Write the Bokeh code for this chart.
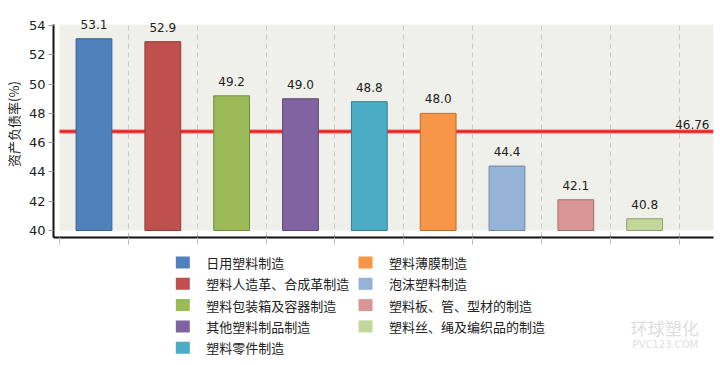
from bokeh.plotting import figure
from bokeh.models import FixedTicker, BoxAnnotation, Range1d
from bokeh.layouts import column
from bokeh.embed import file_html
from bokeh.resources import INLINE
from bokeh.core.properties import value

# ---- data ----
categories = ["日用塑料制造", "塑料人造革、合成革制造", "塑料包装箱及容器制造",
              "其他塑料制品制造", "塑料零件制造", "塑料薄膜制造", "泡沫塑料制造",
              "塑料板、管、型材的制造", "塑料丝、绳及编织品的制造"]
values = [53.1, 52.9, 49.2, 49.0, 48.8, 48.0, 44.4, 42.1, 40.8]
average = 46.76
y_ticks = [40, 42, 44, 46, 48, 50, 52, 54]
y_label = "资产负债率(%)"

# ---- styles ----
colors = ["#4f81bd", "#c0504d", "#9bbb59", "#8064a2", "#4bacc6",
          "#f79646", "#95b3d7", "#d99694", "#c3d69b"]
borders = ["#3a6190", "#8f3b39", "#71893f", "#5c4876", "#357f93",
           "#b86e32", "#6d86a6", "#a16e6c", "#8fa071"]
NUM_FONT = value("DejaVu Sans")
CJK_FONT = value("Noto Sans CJK SC")

xs = list(range(len(values)))
base = y_ticks[0]

W = 720
H_MAIN = 245
H_LEG = 119

Y_LO, Y_TOP_AREA, Y_HI = 39.52, 54.07, 55.03

p = figure(width=W, height=H_MAIN,
           x_range=Range1d(-0.588, 9.0), y_range=Range1d(Y_LO, Y_HI),
           output_backend="svg", toolbar_location=None,
           min_border_left=52, min_border_right=7, min_border_top=10, min_border_bottom=8,
           background_fill_color="white", border_fill_color="white",
           outline_line_color=None)

bg = BoxAnnotation(left=-0.5, right=9.0, bottom=base, top=Y_TOP_AREA,
                   fill_color="#f0f0ea", fill_alpha=1.0, line_color=None, level="image")
p.add_layout(bg)

# y axis
p.yaxis.ticker = FixedTicker(ticks=y_ticks)
p.yaxis.bounds = (Y_LO, Y_TOP_AREA)
p.yaxis.major_label_text_font = "DejaVu Sans"
p.yaxis.major_label_text_font_size = "13px"
p.yaxis.major_label_text_color = "#222222"
p.yaxis.major_label_standoff = 3
p.yaxis.major_tick_out = 5
p.yaxis.major_tick_in = 0
p.yaxis.major_tick_line_color = "#999999"
p.yaxis.minor_tick_line_color = None
p.yaxis.axis_line_color = "#111111"
p.yaxis.axis_line_width = 2
p.yaxis.axis_label = y_label
p.yaxis.axis_label_text_font = "Noto Sans CJK SC"
p.yaxis.axis_label_text_font_size = "13px"
p.yaxis.axis_label_text_font_style = "normal"
p.yaxis.axis_label_text_color = "#222222"
p.yaxis.axis_label_standoff = 3

# x axis: unlabeled category-boundary ticks (as minor ticks, so no empty labels)
edges = [i - 0.5 for i in range(len(values) + 1)]
p.xaxis.ticker = FixedTicker(ticks=[], minor_ticks=edges)
p.xaxis.major_label_standoff = 0
p.xaxis.major_tick_out = 0
p.xaxis.major_tick_in = 0
p.xaxis.minor_tick_out = 7
p.xaxis.minor_tick_in = 0
p.xaxis.minor_tick_line_color = "#bbbbbb"
p.xaxis.axis_line_color = "#111111"
p.xaxis.axis_line_width = 2

p.ygrid.visible = False
boundaries = [i + 0.5 for i in range(len(values))]
if "cross_bounds" in p.xgrid[0].properties():
    p.xgrid.ticker = FixedTicker(ticks=boundaries)
    p.xgrid.grid_line_color = "#c8c8c8"
    p.xgrid.grid_line_dash = "5 4"
    p.xgrid.cross_bounds = (Y_LO, Y_TOP_AREA)
else:
    p.xgrid.visible = False
    p.segment(x0=boundaries, x1=boundaries, y0=[Y_LO] * len(boundaries),
              y1=[Y_TOP_AREA] * len(boundaries), line_color="#c8c8c8", line_dash="5 4")

# average line (under bars)
p.segment(x0=[-0.5], x1=[9.0], y0=[average], y1=[average], line_color="#f6a8a8", line_width=5)
p.segment(x0=[-0.5], x1=[9.0], y0=[average], y1=[average], line_color="#ee1c1c", line_width=2.5)

# bars
p.vbar(x=xs, top=values, bottom=base, width=0.52,
       fill_color=colors, line_color=borders, line_width=1)

# labels
p.text(x=xs, y=values, text=[f"{v:.1f}" for v in values],
       text_align="center", text_baseline="bottom", y_offset=-10,
       text_font=NUM_FONT, text_font_size="12px", text_color="#222222")
p.text(x=[9.0], y=[average], text=[f"{average:.2f}"],
       text_align="right", text_baseline="bottom", x_offset=-4, y_offset=-3,
       text_font=NUM_FONT, text_font_size="12px", text_color="#222222")

# ---- legend panel (data coords == page pixels) ----
lg = figure(width=W, height=H_LEG,
            x_range=Range1d(52, 713), y_range=Range1d(H_MAIN + H_LEG, H_MAIN),
            output_backend="svg", toolbar_location=None,
            min_border_left=52, min_border_right=7, min_border_top=0, min_border_bottom=0,
            x_axis_type=None, y_axis_type=None, outline_line_color=None,
            background_fill_color="white", border_fill_color="white")
lg.grid.visible = False

col_sw = [181.5, 364.5]
col_tx = [205, 388]
sw_x, sw_y, tx_x = [], [], []
for i in range(len(categories)):
    c, r = divmod(i, 5)
    sw_x.append(col_sw[c])
    tx_x.append(col_tx[c])
    sw_y.append(262 + 21.3 * r)

lg.rect(x=sw_x, y=sw_y, width=14, height=12, fill_color=colors, line_color=None)
lg.text(x=tx_x, y=sw_y, text=categories, text_align="left", text_baseline="middle",
        text_font=CJK_FONT, text_font_size="13px", text_color="#222222")

# faint watermark
lg.text(x=[630], y=[327], text=["环球塑化"], text_align="left", text_baseline="middle",
        text_font=CJK_FONT, text_font_size="17px", text_color="#dedede")
lg.text(x=[632], y=[344], text=["PVC123.COM"], text_align="left", text_baseline="middle",
        text_font=NUM_FONT, text_font_size="10px", text_color="#dedede")

layout = column(p, lg, spacing=0)
open("out.html", "w").write(file_html(layout, INLINE))
